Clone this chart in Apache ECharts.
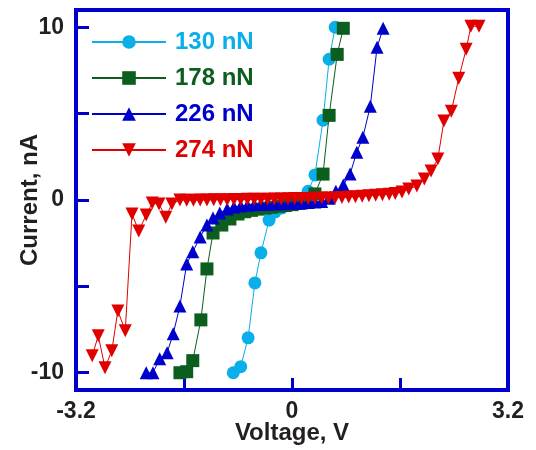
<!DOCTYPE html>
<html><head><meta charset="utf-8">
<script src="https://cdn.jsdelivr.net/npm/echarts@6/dist/echarts.min.js"></script>
<style>html,body{margin:0;padding:0;background:#fff}#c{width:536px;height:450px}</style>
</head><body><div id="c"></div>
<script>
const seriesNames = ['130 nN', '178 nN', '226 nN', '274 nN'];
const seriesColors = ['#0aaee8', '#0b5e1e', '#0000cc', '#e00000'];

const v130 = [-0.87,-0.76,-0.65,-0.55,-0.46,-0.34,-0.25,-0.15,-0.05,0.05,0.15,0.24,0.34,0.46,0.55,0.64];
const i130 = [-10.0,-9.65,-7.98,-4.80,-3.06,-1.16,-0.69,-0.46,-0.30,-0.12,0.10,0.50,1.45,4.62,8.15,10.0];

const v178 = [-1.66,-1.56,-1.47,-1.35,-1.26,-1.17,-1.04,-0.92,-0.80,-0.70,-0.60,-0.50,-0.40,-0.30,-0.20,-0.10,0.00,0.10,0.20,0.34,0.46,0.55,0.67,0.76];
const i178 = [-10.0,-9.94,-9.30,-6.94,-3.99,-1.91,-1.45,-1.10,-0.81,-0.68,-0.60,-0.53,-0.47,-0.42,-0.37,-0.32,-0.27,-0.20,-0.05,0.35,1.50,4.90,8.43,9.94];

const v226 = [-2.16,-2.06,-1.96,-1.85,-1.76,-1.66,-1.56,-1.47,-1.36,-1.26,-1.17,-1.07,-0.96,-0.86,-0.76,-0.66,-0.56,-0.46,-0.36,-0.26,-0.16,-0.06,0.04,0.14,0.24,0.34,0.44,0.55,0.65,0.76,0.86,0.96,1.05,1.16,1.26,1.35];
const i226 = [-10.0,-10.0,-9.19,-8.84,-7.75,-6.13,-3.70,-3.00,-2.14,-1.45,-1.04,-0.75,-0.52,-0.40,-0.35,-0.31,-0.28,-0.26,-0.24,-0.22,-0.21,-0.20,-0.19,-0.17,-0.15,-0.12,-0.08,0.10,0.50,0.87,1.50,2.77,3.64,5.43,8.84,9.94];

const v274 = [-2.96,-2.87,-2.77,-2.67,-2.58,-2.47,-2.37,-2.27,-2.16,-2.07,-1.97,-1.87,-1.78,
  -1.66,-1.56,-1.46,-1.36,-1.26,-1.16,-1.06,-0.96,-0.86,-0.76,-0.66,-0.56,-0.46,-0.36,-0.26,-0.16,-0.06,
  0.04,0.14,0.24,0.34,0.44,0.54,0.64,0.74,0.84,0.94,1.04,1.14,1.24,1.34,1.44,1.53,
  1.63,1.73,1.85,1.96,2.06,2.16,2.25,2.36,2.47,2.58,2.65,2.77];
const i274 = [-9.02,-7.86,-9.71,-8.73,-6.42,-7.57,-0.81,-1.79,-0.87,-0.17,-0.23,-1.00,-0.23,
  0.00,-0.02,-0.02,0.00,0.00,0.01,0.02,0.02,0.03,0.03,0.04,0.04,0.05,0.05,0.06,0.06,0.07,
  0.08,0.08,0.09,0.10,0.11,0.12,0.13,0.15,0.17,0.19,0.21,0.24,0.27,0.30,0.34,0.38,
  0.46,0.64,0.81,1.21,1.68,2.37,4.57,5.14,7.05,8.73,10.06,10.06];

const xTicks = [-1.6, 0, 1.6];
const xTickLabels = [-3.2, 0, 3.2];
const yTicks = [-10, -5, 0, 5, 10];
const yTickLabels = [-10, 0, 10];

const voltages = [v130, v178, v226, v274];
const currents = [i130, i178, i226, i274];
const symbols = ['circle', 'rect', 'triangle', 'triangle'];
const rotations = [0, 0, 0, 180];

const AX = '#0000cd';
const TXT = '#231f20';
const FONT = '"Liberation Sans", Arial, sans-serif';

const chart = echarts.init(document.getElementById('c'), null, {renderer: 'canvas'});

const series = seriesNames.map((name, k) => ({
  name: name,
  type: 'line',
  data: voltages[k].map((v, j) => [v, currents[k][j]]),
  symbol: symbols[k],
  symbolRotate: rotations[k],
  symbolSize: 13,
  showAllSymbol: true,
  color: seriesColors[k],
  itemStyle: {color: seriesColors[k], opacity: 1},
  lineStyle: {color: seriesColors[k], width: 1},
  z: 2 + k,
  animation: false
}));

chart.setOption({
  animation: false,
  backgroundColor: '#fff',
  grid: {left: 76, right: 28, top: 10, bottom: 60, show: true, borderColor: AX, borderWidth: 4,
         backgroundColor: 'transparent', containLabel: false, outerBoundsMode: 'none'},
  legend: {
    orient: 'vertical', left: 91, top: 30, padding: 0,
    itemWidth: 74, itemHeight: 17, itemGap: 12,
    data: seriesNames.map((n, k) => ({name: n, textStyle: {color: seriesColors[k]}})),
    textStyle: {fontSize: 24, fontWeight: 'bold', fontFamily: FONT, lineHeight: 24, padding: [0, 0, 0, 4]}
  },
  xAxis: {
    type: 'value', min: -3.2, max: 3.2,
    name: 'Voltage, V', nameLocation: 'middle', nameGap: 31, nameMoveOverlap: false,
    nameTextStyle: {fontSize: 24, fontWeight: 'bold', color: TXT, fontFamily: FONT},
    axisLine: {show: true, onZero: false, lineStyle: {color: AX, width: 4}},
    axisTick: {show: true, inside: true, length: 12, customValues: xTicks, lineStyle: {color: AX, width: 3}},
    axisLabel: {show: true, customValues: xTickLabels, showMinLabel: true, showMaxLabel: true, fontSize: 23, fontWeight: 'bold', color: TXT, fontFamily: FONT, margin: 10},
    splitLine: {show: false}
  },
  yAxis: {
    type: 'value', min: -11, max: 11,
    name: 'Current, nA', nameLocation: 'middle', nameGap: 34, nameMoveOverlap: false,
    nameTextStyle: {fontSize: 24, fontWeight: 'bold', color: TXT, fontFamily: FONT},
    axisLine: {show: true, onZero: false, lineStyle: {color: AX, width: 4}},
    axisTick: {show: true, inside: true, length: 13, customValues: yTicks, lineStyle: {color: AX, width: 3}},
    axisLabel: {show: true, customValues: yTickLabels, showMinLabel: true, showMaxLabel: true, fontSize: 23, fontWeight: 'bold', color: TXT, fontFamily: FONT, margin: 12},
    splitLine: {show: false}
  },
  series: series
});
</script>
</body></html>
